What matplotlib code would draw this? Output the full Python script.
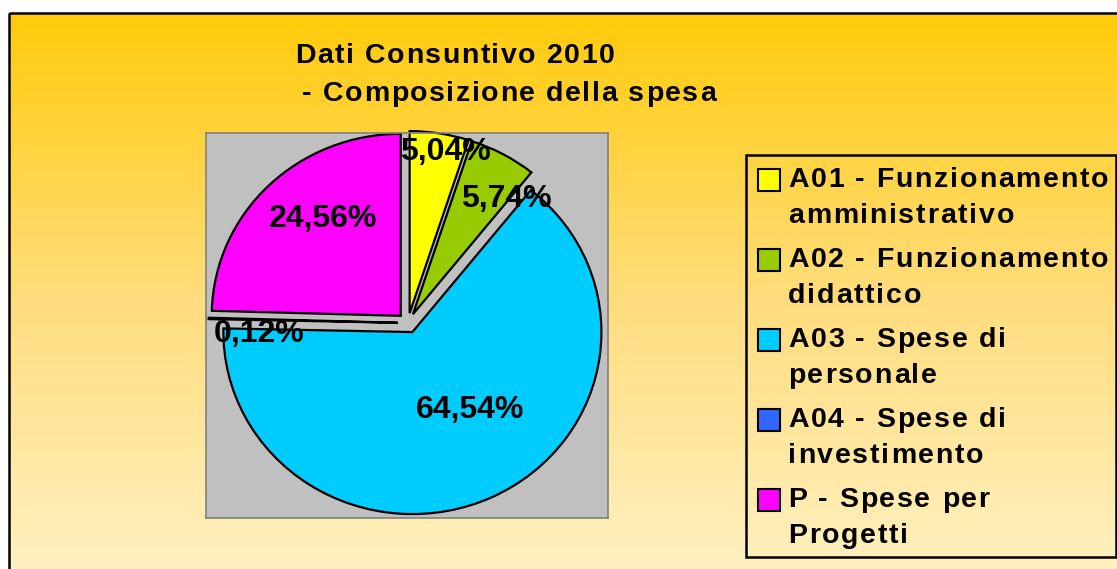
import matplotlib
matplotlib.use('Agg')
import matplotlib.pyplot as plt
import numpy as np
from matplotlib.patches import Rectangle
from matplotlib.colors import LinearSegmentedColormap

plt.rcParams['font.family'] = ['Liberation Sans', 'DejaVu Sans']

# data
categories = ['A01 - Funzionamento\namministrativo',
              'A02 - Funzionamento\ndidattico',
              'A03 - Spese di\npersonale',
              'A04 - Spese di\ninvestimento',
              'P - Spese per\nProgetti']
shares = [5.04, 5.74, 64.54, 0.12, 24.56]
pct_labels = ['5,04%', '5,74%', '64,54%', '0,12%', '24,56%']
colors = ['#FFFF00', '#99CC00', '#00CCFF', '#3366FF', '#FF00FF']
# label positions (pie data units), as dragged in the original
label_xy = [(0.2, 0.94), (0.52, 0.68), (0.33, -0.48), (-0.79, -0.06), (-0.45, 0.57)]

W, H = 1117, 569
fig = plt.figure(figsize=(W / 100, H / 100), dpi=100)
fig.patch.set_facecolor('white')
renderer = fig.canvas.get_renderer()

# background frame with gradient (this axes is in pixel units)
bg = fig.add_axes([0, 0, 1, 1], zorder=-5)
cmap = LinearSegmentedColormap.from_list('bg', ['#FFCB0A', '#FFDD7E', '#FFF2C4'])
grad = np.linspace(0, 1, 256).reshape(-1, 1)
bg.imshow(grad, cmap=cmap, aspect='auto', extent=(9, W + 20, H + 20, 13), origin='upper')
bg.add_patch(Rectangle((9, 13), W + 20, H + 20, fill=False, edgecolor='black', lw=1.8))
bg.set_xlim(0, W)
bg.set_ylim(H, 0)
bg.axis('off')


def text_width(s, **kw):
    t = bg.text(0, 0, s, **kw)
    w = t.get_window_extent(renderer).width
    t.remove()
    return w


def spaced(x, y, s, track, **kw):
    # draw text with extra letter spacing, like the original export
    bar = text_width('|', **kw)
    for i, ch in enumerate(s):
        if ch == ' ':
            continue
        off = text_width(s[:i] + '|', **kw) - bar if i else 0
        bg.text(x + off + i * track, y, ch, ha='left', va='center', **kw)


tkw = dict(fontsize=20.5, fontweight='bold')
# title
spaced(295, 56, 'Dati Consuntivo 2010', 1.6, **tkw)
spaced(302, 94, '- Composizione della spesa', 1.6, **tkw)

# pie
ax = fig.add_axes([206 / W, 1 - 518 / H, 402 / W, 385 / H])
ax.set_facecolor('#C0C0C0')
wedges, _ = ax.pie(shares, colors=colors, startangle=90, counterclock=False,
                   explode=[0.055] * len(shares), frame=True,
                   wedgeprops=dict(edgecolor='black', linewidth=1.6))
ax.set_aspect('auto')
ax.set_xlim((206 - 408) / 189, (608 - 408) / 189)
ax.set_ylim((323 - 518) / 182, (323 - 133) / 182)
ax.set_xticks([])
ax.set_yticks([])
for s in ax.spines.values():
    s.set_color('#808080')
    s.set_linewidth(1.2)

for txt, (x, y) in zip(pct_labels, label_xy):
    ax.text(x, y, txt, fontsize=23, fontweight='bold', ha='center', va='center')

# legend (drawn by hand to match the two-line layout)
bg.add_patch(Rectangle((746, 155), 370, 402, fill=False, edgecolor='black', lw=1.8))
for i, (lab, c) in enumerate(zip(categories, colors)):
    yc = 180 + 80 * i
    bg.add_patch(Rectangle((758, yc - 11), 22, 22, facecolor=c, edgecolor='black', lw=1.5))
    l1, l2 = lab.split('\n')
    spaced(788, yc, l1, 1.8, **tkw)
    spaced(788, yc + 36, l2, 1.8, **tkw)

fig.savefig('out.png', dpi=100)
